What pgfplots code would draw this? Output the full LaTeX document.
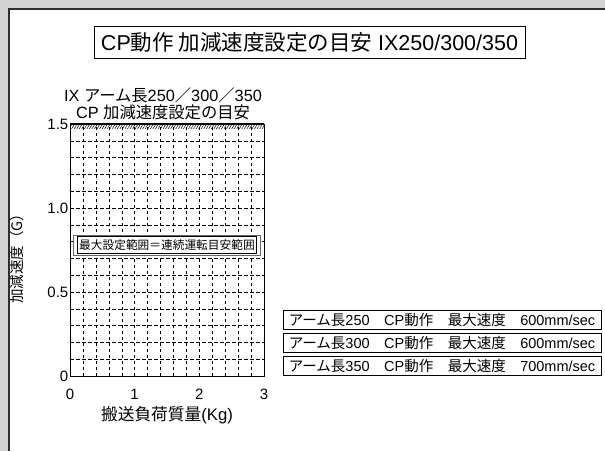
\documentclass[border=0pt]{standalone}
\usepackage{pgfplots}
\pgfplotsset{compat=1.18}
\usepackage{fontspec}
\setmainfont{Liberation Sans}
\newfontfamily\jp{Noto Sans CJK JP}
\usetikzlibrary{patterns.meta}
\definecolor{bggray}{HTML}{D3D3D3}
\definecolor{framecol}{HTML}{2E2E2E}
\begin{document}
\begin{tikzpicture}[x=1pt,y=1pt]
\useasboundingbox (0,0) rectangle (605,451);
\fill[bggray] (0,0) rectangle (605,451);
\fill[white] (9,0) rectangle (605,442);
\draw[line width=1.8pt, framecol] (9,0) -- (9,442) -- (605,442);
% title
\node[draw=black, line width=0.9pt, minimum width=431pt, minimum height=32pt, inner sep=0pt]
  at (309.5,409) {\fontsize{21.5}{25}\selectfont CP{\jp 動作 加減速度設定の目安} IX250/300/350};
% subtitle
\node[align=center, inner sep=0pt, font=\fontsize{16.3}{17}\selectfont] at (163,347)
  {IX {\jp アーム長}250{\jp ／}300{\jp ／}350\\ CP {\jp 加減速度設定の目安}};
\begin{axis}[
  at={(70pt,75pt)}, anchor=south west,
  scale only axis, width=194pt, height=252pt,
  xmin=0, xmax=3, ymin=0, ymax=1.5,
  xtick={0,1,2,3}, ytick={0,0.5,1.0,1.5},
  yticklabels={0,0.5,1.0,1.5},
  minor x tick num=4, minor y tick num=4,
  grid=both,
  major grid style={black, line width=0.45pt, dash pattern=on 3.5pt off 2.5pt},
  minor grid style={black, line width=0.45pt, dash pattern=on 3.5pt off 2.5pt},
  major tick length=0pt, minor tick length=0pt,
  axis line style={black, line width=0.9pt},
  /pgf/number format/assume math mode=true,
  ticklabel style={font=\fontsize{15}{15}\selectfont},
  xticklabel style={anchor=center, yshift=-18pt},
  yticklabel style={anchor=east, inner sep=0pt, xshift=-1.5pt},
  xlabel={{\jp 搬送負荷質量}(Kg)},
  xlabel style={at={(axis description cs:0.5,0)}, anchor=center, yshift=-39pt, font=\fontsize{16.7}{17}\selectfont},
  ylabel={{\jp 加減速度（G）}},
  ylabel style={at={(axis description cs:-0.273,0.48)}, anchor=center, font=\fontsize{14.5}{15}\selectfont},
  clip=false,
]
\addplot[draw=none, pattern={Lines[angle=60, distance=2.2pt, line width=0.5pt]}]
  coordinates {(0,1.476) (3,1.476) (3,1.5) (0,1.5)} -- cycle;
\addplot[black, line width=2pt] coordinates {(0,1.5) (3,1.5)};
\node[fill=white, draw=black!60, line width=0.4pt, minimum width=187pt, minimum height=20pt, inner sep=0pt] at (axis cs:1.5,0.78) {};
\node[draw=black, line width=0.7pt, inner sep=1.5pt, minimum width=177pt, minimum height=17pt, font=\fontsize{11.7}{12}\selectfont] at (axis cs:1.5,0.78) {{\jp 最大設定範囲＝連続運転目安範囲}};
\end{axis}
% legend boxes
\foreach \yy/\len/\sp in {131/250/600, 108/300/600, 85/350/700}{
  \node[draw=black, line width=0.7pt, minimum width=318pt, minimum height=19pt, inner sep=0pt, font=\fontsize{14.5}{15}\selectfont]
    at (442,\yy) {{\jp アーム長}\len{\jp 　}CP{\jp 動作　最大速度　}\sp mm/sec};
}
\end{tikzpicture}
\end{document}
